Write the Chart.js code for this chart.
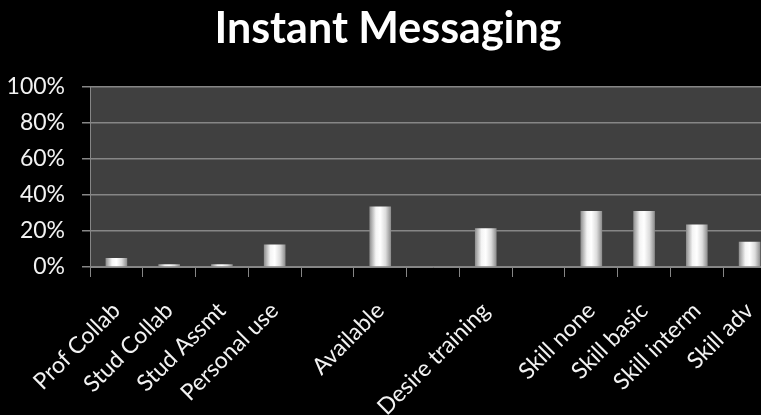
<!DOCTYPE html>
<html>
<head>
<meta charset="utf-8">
<script src="https://cdn.jsdelivr.net/npm/chart.js@4/dist/chart.umd.min.js"></script>
<style>
	html, body { margin: 0; background: #000; overflow: hidden; }
	#contenedor { width: 776px; height: 415px; }
</style>
</head>
<body>
<div id="contenedor"><canvas id="grafica"></canvas></div>
<script>
// Categorias del eje X (las vacias separan los grupos)
const categorias = ['Prof Collab', 'Stud Collab', 'Stud Assmt', 'Personal use', '', 'Available', '', 'Desire training', '', 'Skill none', 'Skill basic', 'Skill interm', 'Skill adv'];
// Porcentaje de cada categoria
const porcentajes = [5, 1.5, 1.5, 12.5, null, 33.5, null, 21.5, null, 31, 31, 23.5, 14];
// Marcas del eje Y
const marcasY = [0, 20, 40, 60, 80, 100];

(function () {

	const ctx = document.getElementById('grafica');
	const anchoBarra = 0.41;

	// Fondo gris del area de trazado
	const fondoArea = {
		id: 'fondoArea',
		beforeDraw(chart) {
			const { ctx, chartArea } = chart;
			ctx.save();
			ctx.fillStyle = '#404040';
			ctx.fillRect(chartArea.left, chartArea.top, chartArea.right - chartArea.left, chartArea.bottom - chartArea.top);
			ctx.restore();
		}
	};

	// Degradado horizontal tipo cilindro para cada barra
	function degradado(context) {
		const chart = context.chart;
		const { ctx, chartArea, scales } = chart;
		if (!chartArea || !scales.x) return '#e6e6e6';
		const centro = scales.x.getPixelForValue(context.dataIndex);
		const mitad = scales.x.width / categorias.length * anchoBarra / 2;
		const g = ctx.createLinearGradient(centro - mitad, 0, centro + mitad, 0);
		g.addColorStop(0, '#8c8c8c');
		g.addColorStop(0.3, '#f4f4f4');
		g.addColorStop(0.5, '#ffffff');
		g.addColorStop(0.75, '#dcdcdc');
		g.addColorStop(1, '#8a8a8a');
		return g;
	}

	new Chart(ctx, {
		type: 'bar',
		data: {
			labels: categorias,
			datasets: [{
				data: porcentajes,
				backgroundColor: degradado,
				borderWidth: 0,
				barPercentage: anchoBarra,
				categoryPercentage: 1
			}]
		},
		options: {
			responsive: true,
			maintainAspectRatio: false,
			animation: false,
			layout: { padding: 0 },
			plugins: {
				legend: { display: false },
				tooltip: { enabled: false },
				title: {
					display: true,
					text: 'Instant Messaging',
					color: '#ffffff',
					font: { family: 'Lato', size: 43, weight: 'bold' },
					padding: { top: 3, bottom: 32 }
				}
			},
			scales: {
				x: {
					grid: {
						offset: true,
						drawOnChartArea: false,
						drawTicks: true,
						tickLength: 10,
						color: '#868686'
					},
					border: { color: '#868686', width: 1 },
					ticks: {
						color: '#f2f2f2',
						font: { family: 'Lato', size: 23 },
						minRotation: 45,
						maxRotation: 45,
						autoSkip: false,
						padding: 20
					},
					afterFit(scale) {
						scale.height = 148;
						// sin margen extra: el eje llega hasta el borde del lienzo
						scale.paddingLeft = 0;
						scale.paddingRight = 0;
					}
				},
				y: {
					min: 0,
					max: 100,
					afterBuildTicks(scale) {
						scale.ticks = marcasY.map(v => ({ value: v }));
					},
					grid: {
						color: '#868686',
						tickLength: 8,
						lineWidth: 1.5
					},
					border: { color: '#868686', width: 1 },
					ticks: {
						color: '#f2f2f2',
						font: { family: 'Lato', size: 23 },
						padding: 17,
						callback: function (value) {
							return value + '%';
						}
					},
					afterFit(scale) { scale.width = 90; }
				}
			}
		},
		plugins: [fondoArea]
	});

})();
</script>
</body>
</html>
